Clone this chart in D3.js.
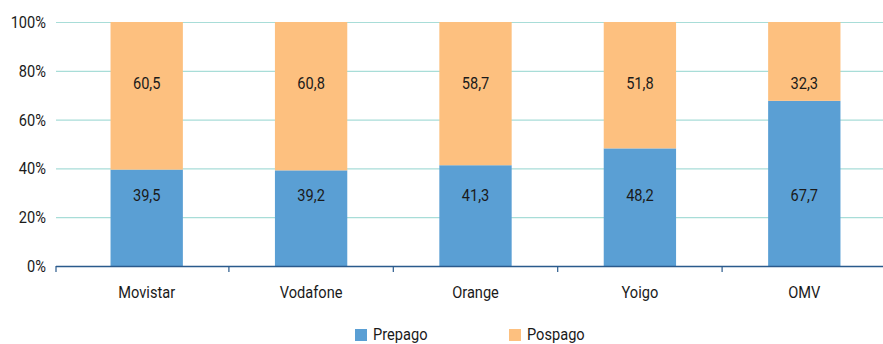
<!DOCTYPE html>
<html><head><meta charset="utf-8">
<script src="https://cdn.jsdelivr.net/npm/d3@7"></script>
<style>
body{margin:0;background:#fff;}
text{font-family:Roboto,"Liberation Sans",sans-serif;fill:#1a1a1a;}
</style></head><body>
<svg id="c" width="883" height="344"></svg>
<script>
const categories = ["Movistar","Vodafone","Orange","Yoigo","OMV"];
const prepago = [39.5,39.2,41.3,48.2,67.7];
const pospago = [60.5,60.8,58.7,51.8,32.3];
const yTicks = [0,20,40,60,80,100];
const seriesNames = ["Prepago","Pospago"];
const colors = ["#5a9fd4","#fdc07f"];

const SX = 0.86, FS = 17;
const svg = d3.select("#c");
function ctext(sel, x, y, anchor){
  return sel.append("text").attr("transform",`translate(${x},${y}) scale(${SX},1)`)
    .attr("text-anchor",anchor).attr("font-size",FS);
}
const x = d3.scaleBand().domain(categories).range([64.5,886.5]).paddingInner(0.56).paddingOuter(0.28);
const y = d3.scaleLinear().domain([0,100]).range([266,22]);

// gridlines
svg.append("g").selectAll("line").data(yTicks.filter(d=>d>0)).join("line")
  .attr("x1",56).attr("x2",883).attr("y1",d=>y(d)+0.5).attr("y2",d=>y(d)+0.5)
  .attr("stroke","#a8ddd8").attr("stroke-width",1.2);

// y labels
const yl = svg.append("g");
yTicks.forEach(t=>{ ctext(yl,46,y(t)+6,"end").text(t+"%"); });

const fmt = v => v.toFixed(1).replace(".",",");
const data = categories.map((c,i)=>({c, a:prepago[i], b:pospago[i]}));
const stack = d3.stack().keys(["a","b"])(data);
const labelLevel = [29,75];

const g = svg.append("g");
stack.forEach((layer,li)=>{
  g.append("g").selectAll("rect").data(layer).join("rect")
    .attr("x",d=>x(d.data.c)).attr("width",x.bandwidth())
    .attr("y",d=>y(d[1])).attr("height",d=>y(d[0])-y(d[1]))
    .attr("fill",colors[li]);
  const lg = g.append("g");
  layer.forEach(d=>{
    ctext(lg, x(d.data.c)+x.bandwidth()/2, y(labelLevel[li])+6, "middle").text(fmt(d[1]-d[0]));
  });
});

// x axis
svg.append("line").attr("x1",56).attr("x2",883).attr("y1",266.5).attr("y2",266.5)
  .attr("stroke","#2a5a8c").attr("stroke-width",1.5);
const bounds = [56].concat(categories.slice(1).map(c=>x(c)-x.step()*x.paddingInner()/2));
svg.append("g").selectAll("line").data(bounds).join("line")
  .attr("x1",d=>d).attr("x2",d=>d).attr("y1",266).attr("y2",272)
  .attr("stroke","#2a5a8c").attr("stroke-width",1.2);
const xl = svg.append("g");
categories.forEach(c=>{ ctext(xl, x(c)+x.bandwidth()/2, 298, "middle").text(c); });

// legend
const legX = [355,509];
seriesNames.forEach((s,i)=>{
  svg.append("rect").attr("x",legX[i]).attr("y",329).attr("width",12).attr("height",12).attr("fill",colors[i]);
  ctext(svg, legX[i]+18, 339.5, "start").text(s);
});
</script>
</body></html>
